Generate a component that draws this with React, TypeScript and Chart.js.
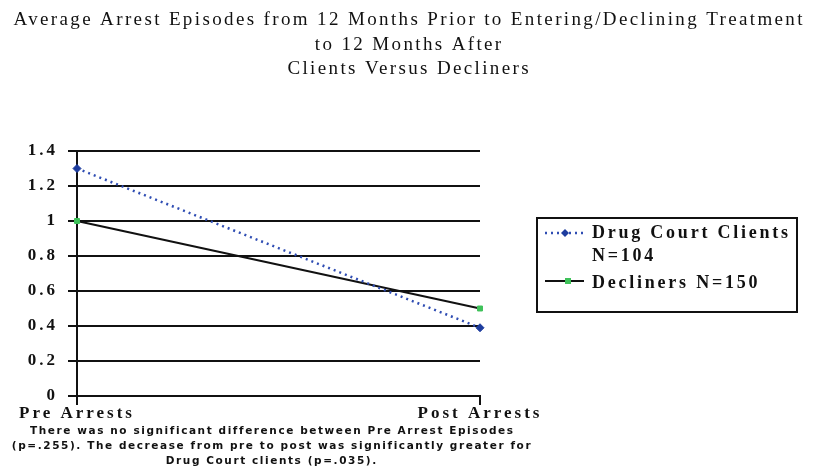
import React, { useEffect, useRef } from 'react';
import { Chart, registerables } from 'chart.js';

Chart.register(...registerables);

// ---- data ----
const categories = ['Pre Arrests', 'Post Arrests'];
const drugCourtClients = [1.3, 0.39];
const decliners = [1.0, 0.5];
const yTickLabels = ['0', '0.2', '0.4', '0.6', '0.8', '1', '1.2', '1.4'];
const titleLines = [
  'Average Arrest Episodes from 12 Months Prior to Entering/Declining Treatment',
  'to 12 Months After',
  'Clients Versus Decliners',
];
const legendDrugCourt = ['Drug Court Clients', 'N=104'];
const legendDecliners = ['Decliners N=150'];
const footnoteLines = [
  'There was no significant difference between Pre Arrest Episodes',
  '(p=.255). The decrease from pre to post was significantly greater for',
  'Drug Court clients (p=.035).',
];

const SERIF = '"Liberation Serif", "Times New Roman", serif';
const SANS = '"DejaVu Sans", "Liberation Sans", sans-serif';
const INK = '#111';
const BLUE = '#2f4db3';
const BLUE_PT = '#1d3c9e';
const GREEN = '#3fc25a';

function naturalWidth(ctx: CanvasRenderingContext2D, text: string) {
  (ctx as any).letterSpacing = '0px';
  return ctx.measureText(text).width;
}

function spacingFor(ctx: CanvasRenderingContext2D, text: string, target: number) {
  return (target - naturalWidth(ctx, text)) / (text.length - 1);
}

function drawSpaced(
  ctx: CanvasRenderingContext2D,
  text: string,
  x: number,
  y: number,
  spacing: number,
  align: 'left' | 'center'
) {
  const w = naturalWidth(ctx, text) + spacing * (text.length - 1);
  (ctx as any).letterSpacing = spacing + 'px';
  ctx.textAlign = 'left';
  const sx = align === 'center' ? x - w / 2 : x;
  ctx.fillText(text, sx, y);
  (ctx as any).letterSpacing = '0px';
}

const scaleSpacingPlugin = {
  id: 'scaleSpacing',
  beforeDraw(chart: any) {
    (chart.ctx as any).letterSpacing = '3px';
  },
  beforeDatasetsDraw(chart: any) {
    (chart.ctx as any).letterSpacing = '0px';
  },
};

const decorPlugin = {
  id: 'decor',
  afterDraw(chart: any) {
    const ctx: CanvasRenderingContext2D = chart.ctx;
    ctx.save();
    (ctx as any).letterSpacing = '0px';
    ctx.fillStyle = INK;
    ctx.textBaseline = 'alphabetic';

    // title
    ctx.font = `19px ${SERIF}`;
    const ts = spacingFor(ctx, titleLines[0], 789);
    const titleBase = [25, 50, 74];
    titleLines.forEach((t, i) => drawSpaced(ctx, t, 408, titleBase[i], ts, 'center'));

    // legend box
    ctx.strokeStyle = INK;
    ctx.lineWidth = 2;
    ctx.strokeRect(537, 218, 260, 94);

    const ds = chart.data.datasets;
    // sample 1: dotted blue with diamond
    ctx.save();
    ctx.strokeStyle = ds[0].borderColor;
    ctx.lineWidth = ds[0].borderWidth;
    ctx.setLineDash(ds[0].borderDash);
    ctx.beginPath();
    ctx.moveTo(545, 233);
    ctx.lineTo(584, 233);
    ctx.stroke();
    ctx.setLineDash([]);
    ctx.fillStyle = ds[0].pointBackgroundColor;
    ctx.beginPath();
    const r1 = 4;
    ctx.moveTo(565, 233 - r1);
    ctx.lineTo(565 + r1, 233);
    ctx.lineTo(565, 233 + r1);
    ctx.lineTo(565 - r1, 233);
    ctx.closePath();
    ctx.fill();
    // sample 2: solid black with green marker
    ctx.strokeStyle = ds[1].borderColor;
    ctx.lineWidth = ds[1].borderWidth;
    ctx.beginPath();
    ctx.moveTo(545, 281);
    ctx.lineTo(584, 281);
    ctx.stroke();
    ctx.fillStyle = ds[1].pointBackgroundColor;
    ctx.fillRect(565, 278, 6, 6);
    ctx.restore();

    ctx.fillStyle = INK;
    ctx.font = `bold 18px ${SERIF}`;
    const ls = spacingFor(ctx, legendDrugCourt[0], 196);
    drawSpaced(ctx, legendDrugCourt[0], 592, 238, ls, 'left');
    drawSpaced(ctx, legendDrugCourt[1], 592, 261, ls, 'left');
    drawSpaced(ctx, legendDecliners[0], 592, 288, ls, 'left');

    // footnote
    ctx.font = `bold 10.5px ${SANS}`;
    const fs = spacingFor(ctx, footnoteLines[0], 482);
    const footBase = [434, 449, 464];
    footnoteLines.forEach((t, i) => drawSpaced(ctx, t, 271, footBase[i], fs, 'center'));

    ctx.restore();
  },
};

export default function App() {
  const ref = useRef<HTMLCanvasElement | null>(null);

  useEffect(() => {
    if (!ref.current) return;
    const chart = new Chart(ref.current, {
      type: 'line',
      data: {
        labels: categories,
        datasets: [
          {
            label: 'Drug Court Clients N=104',
            data: drugCourtClients,
            borderColor: BLUE,
            borderWidth: 2.5,
            borderDash: [2, 4],
            pointStyle: 'rectRot',
            pointRadius: 4,
            pointBackgroundColor: BLUE_PT,
            pointBorderColor: BLUE_PT,
            pointBorderWidth: 1,
            tension: 0,
            fill: false,
          },
          {
            label: 'Decliners N=150',
            data: decliners,
            borderColor: INK,
            borderWidth: 2,
            pointStyle: 'rect',
            pointRadius: 3.5,
            pointBackgroundColor: GREEN,
            pointBorderColor: GREEN,
            pointBorderWidth: 1,
            tension: 0,
            fill: false,
          },
        ],
      },
      options: {
        animation: false,
        responsive: false,
        devicePixelRatio: 1,
        layout: { padding: { top: 151, right: 337, left: 0, bottom: 0 } },
        plugins: {
          legend: { display: false },
          title: { display: false },
          tooltip: { enabled: false },
        },
        scales: {
          x: {
            type: 'category',
            offset: false,
            afterFit: (s: any) => {
              s.height = 78;
            },
            grid: {
              display: true,
              drawOnChartArea: false,
              drawTicks: true,
              tickLength: 9,
              color: INK,
              lineWidth: 2,
            },
            border: { display: true, color: INK, width: 2 },
            ticks: {
              autoSkip: false,
              maxRotation: 0,
              minRotation: 0,
              padding: -2,
              color: INK,
              font: { family: SERIF, size: 17, weight: 'bold' },
            },
          },
          y: {
            type: 'linear',
            min: 0,
            max: 1.4,
            afterFit: (s: any) => {
              s.width = 77;
            },
            grid: {
              display: true,
              drawTicks: true,
              tickLength: 9,
              color: INK,
              lineWidth: 2,
            },
            border: { display: true, color: INK, width: 2 },
            ticks: {
              stepSize: 0.2,
              padding: 10,
              color: INK,
              font: { family: SERIF, size: 17, weight: 'bold' },
              callback: (_v: any, i: number) => yTickLabels[i],
            },
          },
        },
      } as any,
      plugins: [scaleSpacingPlugin, decorPlugin],
    });
    return () => chart.destroy();
  }, []);

  return (
    <div style={{ position: 'fixed', left: 0, top: 0, width: 817, height: 474, background: '#fff' }}>
      <canvas ref={ref} width={817} height={474} style={{ display: 'block' }} />
    </div>
  );
}
